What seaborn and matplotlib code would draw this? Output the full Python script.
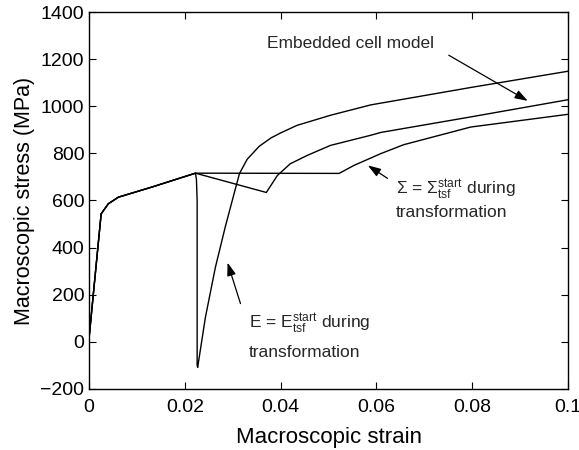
import matplotlib
matplotlib.use("Agg")
import matplotlib.pyplot as plt
import seaborn as sns
import pandas as pd

# Shared elastic-plastic loading branch
load_strain = [0.0, 0.0025, 0.004, 0.0061, 0.0131, 0.0222]
load_stress = [20, 543, 586, 614, 657, 716]

# E = E_tsf^start during transformation
a_strain = [0.0224, 0.02255, 0.02255, 0.02266, 0.02427, 0.02636, 0.02845, 0.03054,
            0.0314, 0.033, 0.0355, 0.038, 0.04, 0.0434, 0.0504, 0.0588, 0.0797, 0.1]
a_stress = [690, 600, -100, -109, 103, 316, 490, 650,
            715, 775, 830, 866, 887, 919, 962, 1006, 1080, 1149]

# Embedded cell model
b_strain = [0.037, 0.0393, 0.042, 0.0455, 0.048, 0.0504, 0.0588, 0.0609, 0.0797, 0.1]
b_stress = [634, 706, 756, 791, 813, 834, 877, 889, 955, 1028]

# Sigma = Sigma_tsf^start during transformation
c_strain = [0.0522, 0.0553, 0.0609, 0.0657, 0.0797, 0.1]
c_stress = [715, 749, 799, 837, 912, 966]

x_ticks = [0, 0.02, 0.04, 0.06, 0.08, 0.1]
x_ticklabels = ["0", "0.02", "0.04", "0.06", "0.08", "0.1"]
y_ticks = [-200, 0, 200, 400, 600, 800, 1000, 1200, 1400]

sns.set_theme(style="ticks")
plt.rcParams["font.family"] = ["Liberation Sans", "DejaVu Sans"]
plt.rcParams["mathtext.fontset"] = "custom"
plt.rcParams["mathtext.rm"] = "Liberation Sans"
plt.rcParams["mathtext.it"] = "Liberation Sans:italic"
plt.rcParams["mathtext.bf"] = "Liberation Sans:bold"

frames = []
def add(name, xs, ys):
    frames.append(pd.DataFrame({"strain": xs, "stress": ys, "curve": name}))

add("A", load_strain + a_strain, load_stress + a_stress)
add("B", load_strain + b_strain, load_stress + b_stress)
add("C", load_strain + c_strain, load_stress + c_stress)
df = pd.concat(frames, ignore_index=True)

fig = plt.figure(figsize=(5.79, 4.5), dpi=100)
ax = fig.add_axes([0.154, 0.136, 0.827, 0.837])

for name, sub in df.groupby("curve"):
    sns.lineplot(data=sub, x="strain", y="stress", sort=False, estimator=None,
                 color="black", linewidth=1.0, ax=ax)

ax.set_xlim(0, 0.1)
ax.set_ylim(-200, 1400)
ax.set_xticks(x_ticks)
ax.set_xticklabels(x_ticklabels)
ax.set_yticks(y_ticks)
ax.tick_params(direction="in", top=True, right=True, labelsize=14, length=5, width=0.8, colors="black")
ax.tick_params(axis="x", pad=7)
for s in ax.spines.values():
    s.set_visible(True)
    s.set_color("black")
    s.set_linewidth(1.0)
ax.set_xlabel("Macroscopic strain", fontsize=16, color="black", labelpad=8)
ax.set_ylabel("Macroscopic stress (MPa)", fontsize=15.5, color="black", labelpad=4)

arrowprops = dict(arrowstyle="-|>,head_length=0.65,head_width=0.22", color="black", lw=0.9,
                  shrinkA=0, shrinkB=0)
fs = 12.5
ax.annotate("", xy=(0.0916, 1023), xytext=(0.0751, 1217), arrowprops=arrowprops)
ax.text(0.0546, 1268, "Embedded cell model", fontsize=fs, ha="center", va="center")

ax.annotate("", xy=(0.0582, 749), xytext=(0.0623, 694), arrowprops=arrowprops)
ax.text(0.064, 643, r"$\Sigma$ = $\Sigma_{\mathrm{tsf}}^{\mathrm{start}}$ during", fontsize=fs,
        ha="left", va="center")
ax.text(0.064, 549, "transformation", fontsize=fs, ha="left", va="center")

ax.annotate("", xy=(0.0289, 336), xytext=(0.0316, 162), arrowprops=arrowprops)
ax.text(0.0333, 77, r"E = E$_{\mathrm{tsf}}^{\mathrm{start}}$ during", fontsize=fs, ha="left", va="center")
ax.text(0.0333, -47, "transformation", fontsize=fs, ha="left", va="center")

fig.savefig("out.png", dpi=100)
